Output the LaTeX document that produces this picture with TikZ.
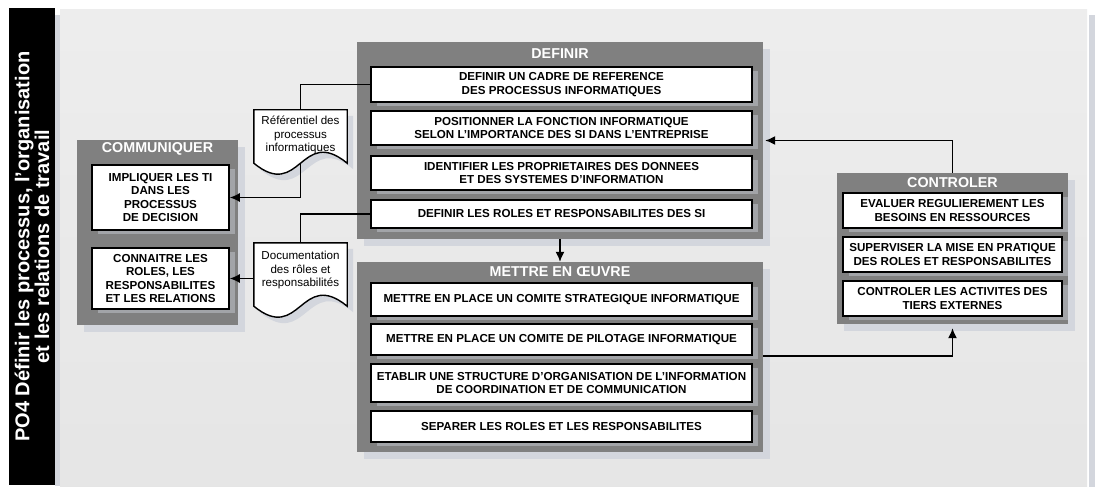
\documentclass[tikz,border=0pt]{standalone}
\usepackage{fontspec}
\setmainfont{Liberation Sans}
\usetikzlibrary{arrows.meta,shadows,calc}

\definecolor{stagegray}{HTML}{808080}
\definecolor{sheetgray}{HTML}{E9E9E9}
\definecolor{paleshadow}{HTML}{D3D6DD}
\definecolor{taskshadow}{HTML}{A2A4A8}

% outline of a document symbol with a wavy lower edge
\newcommand\docoutline[1]{(#1.south east) .. controls ($(#1.south east)+(-46.5,-38)$) and ($(#1.south west)+(46.5,38)$) .. (#1.south west) -- (#1.north west) -- (#1.north east) -- cycle}

\begin{document}
\begin{tikzpicture}[x=1pt,y=-1pt,
  stage/.style={fill=stagegray, inner sep=0pt,
    drop shadow={shadow xshift=7pt, shadow yshift=-7pt, fill=paleshadow, opacity=1}},
  stagetitle/.style={text=white, font=\bfseries\fontsize{14.3}{16}\selectfont, inner sep=0pt},
  task/.style={draw=black, line width=1.6pt, fill=white, inner sep=0pt, align=center,
    font=\bfseries\fontsize{11.6}{13.6}\selectfont,
    drop shadow={shadow xshift=6pt, shadow yshift=-4pt, fill=taskshadow, opacity=1}},
  docbox/.style={inner sep=0pt},
  doctext/.style={align=center, font=\fontsize{11.6}{13.3}\selectfont, inner sep=0pt},
  link/.style={line width=1.4pt, draw=black},
  flow/.style={link, -{Latex[length=10pt,width=9pt]}}
]
% page and sheet
\useasboundingbox (0,0) rectangle (1096,487);
\fill[white] (0,0) rectangle (1096,487);
\fill[paleshadow] (55,15) rectangle (60,486);
\fill[paleshadow] (1089,15) rectangle (1095,487);
\shade[top color=white!93!black, bottom color=white!90!black] (60,10) rectangle (1087,486);
\fill[black] (9,8) rectangle (55,485);
\node[rotate=90, text=white, align=center, inner sep=0pt,
  font=\bfseries\fontsize{20}{18.5}\selectfont] (heading) at (32,246.5)
  {PO4 Définir les processus, l’organisation\\et les relations de travail};

% stage panels
\node[stage, minimum width=406pt, minimum height=197pt] (definir) at (560,140.5) {};
\node[stage, minimum width=406pt, minimum height=190pt] (mettre) at (560,357) {};
\node[stage, minimum width=161pt, minimum height=185pt] (communiquer) at (157.5,232.5) {};
\node[stage, minimum width=231pt, minimum height=151pt] (controler) at (952.5,248.5) {};

\node[stagetitle] (tdef) at (560,54) {DEFINIR};
\node[stagetitle] (tmet) at (560,272) {METTRE EN ŒUVRE};
\node[stagetitle] (tcom) at (157.5,149) {COMMUNIQUER};
\node[stagetitle] (tcon) at (952.5,183) {CONTROLER};

% DEFINIR tasks
\node[task, minimum width=381pt, minimum height=35pt] (d1) at (561.5,84.5)
  {DEFINIR UN CADRE DE REFERENCE\\DES PROCESSUS INFORMATIQUES};
\node[task, minimum width=381pt, minimum height=34pt] (d2) at (561.5,128)
  {POSITIONNER LA FONCTION INFORMATIQUE\\SELON L’IMPORTANCE DES SI DANS L’ENTREPRISE};
\node[task, minimum width=381pt, minimum height=34pt] (d3) at (561.5,173)
  {IDENTIFIER LES PROPRIETAIRES DES DONNEES\\ET DES SYSTEMES D’INFORMATION};
\node[task, minimum width=381pt, minimum height=28pt] (d4) at (561.5,214)
  {DEFINIR LES ROLES ET RESPONSABILITES DES SI};

% METTRE EN OEUVRE tasks
\node[task, minimum width=381pt, minimum height=33pt] (m1) at (561.5,299.5)
  {METTRE EN PLACE UN COMITE STRATEGIQUE INFORMATIQUE};
\node[task, minimum width=381pt, minimum height=31pt] (m2) at (561.5,339.5)
  {METTRE EN PLACE UN COMITE DE PILOTAGE INFORMATIQUE};
\node[task, minimum width=381pt, minimum height=38pt] (m3) at (561.5,383)
  {ETABLIR UNE STRUCTURE D’ORGANISATION DE L’INFORMATION\\DE COORDINATION ET DE COMMUNICATION};
\node[task, minimum width=381pt, minimum height=31pt] (m4) at (561.5,426.5)
  {SEPARER LES ROLES ET LES RESPONSABILITES};

% COMMUNIQUER tasks
\node[task, minimum width=137pt, minimum height=65pt] (c1) at (160.5,197.5)
  {IMPLIQUER LES TI\\DANS LES\\PROCESSUS\\DE DECISION};
\node[task, minimum width=137pt, minimum height=61pt] (c2) at (160.5,278.5)
  {CONNAITRE LES\\ROLES, LES\\RESPONSABILITES\\ET LES RELATIONS};

% CONTROLER tasks
\node[task, minimum width=219pt, minimum height=35pt] (k1) at (952.5,210.5)
  {EVALUER REGULIEREMENT LES\\BESOINS EN RESSOURCES};
\node[task, minimum width=219pt, minimum height=35pt] (k2) at (952.5,254.5)
  {SUPERVISER LA MISE EN PRATIQUE\\DES ROLES ET RESPONSABILITES};
\node[task, minimum width=219pt, minimum height=35pt] (k3) at (952.5,298.5)
  {CONTROLER LES ACTIVITES DES\\TIERS EXTERNES};

% documents
\node[docbox, minimum width=93pt, minimum height=53pt] (doc1) at (300.5,136.5) {};
\node[docbox, minimum width=93pt, minimum height=63pt] (doc2) at (300.5,274.5) {};
\begin{scope}[transform canvas={shift={(6,6)}}]
  \fill[paleshadow] \docoutline{doc1};
  \fill[paleshadow] \docoutline{doc2};
\end{scope}
\filldraw[fill=white, draw=black, line width=1.4pt] \docoutline{doc1};
\filldraw[fill=white, draw=black, line width=1.4pt] \docoutline{doc2};
\node[doctext] (doc1text) at (300.5,135) {Référentiel des\\processus\\informatiques};
\node[doctext] (doc2text) at (300.5,270) {Documentation\\des rôles et\\responsabilités};

% connectors
\draw[link] (d1.west) -| (doc1.north);
\draw[flow] (doc1.south) |- (c1.east);
\draw[link] (d4.west) -| (doc2.north);
\draw[flow] (doc2.west |- c2.east) -- (c2.east);
\draw[flow] (definir.south) -- (mettre.north);
\draw[flow] (mettre.east |- m2.south) -| ([yshift=-4pt]controler.south);
\draw[flow] (controler.north) |- ([xshift=2pt]definir.east);
\end{tikzpicture}
\end{document}
